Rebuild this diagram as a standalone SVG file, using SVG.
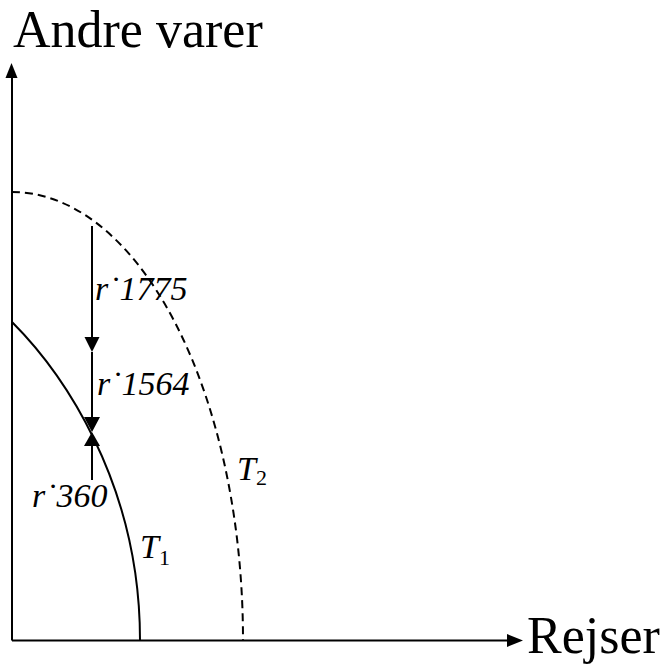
<svg xmlns="http://www.w3.org/2000/svg" width="667" height="666" viewBox="0 0 667 666">
<style>
.ax{stroke:#000;stroke-width:2;fill:none}
.cv{stroke:#000;stroke-width:2;fill:none}
.dash{stroke:#000;stroke-width:2;fill:none;stroke-dasharray:8,5}
.big{font-family:"Liberation Serif","Times New Roman",serif;font-size:52px;fill:#000}
.lab{font-family:"Liberation Serif","Times New Roman",serif;font-size:34px;font-style:italic;fill:#000}
.sub{font-style:normal;font-size:22px}
.head{fill:#000;stroke:none}
</style>
<rect width="667" height="666" fill="#fff"/>
<g id="axes">
<path class="ax" d="M12,640.5 H510 M12,640.5 V76"/>
<polygon class="head" points="11.5,63 5.5,78 17.5,78"/>
<polygon class="head" points="523,640.5 507,634 507,647"/>
</g>
<g id="label-y"><text class="big" x="13" y="47">Andre varer</text></g>
<g id="label-x"><text class="big" x="527" y="653">Rejser</text></g>
<g id="curve-T1"><path class="cv" d="M12,322 C60,370 140,480 140,640"/></g>
<g id="curve-T2"><path class="dash" d="M12,192 A231,448 0 0 1 243,640"/></g>
<g id="connectors">
<line class="cv" x1="92" y1="226" x2="92" y2="340"/>
<polygon class="head" points="92,352 84.5,337 99.5,337"/>
<line class="cv" x1="92" y1="352" x2="92" y2="420"/>
<polygon class="head" points="92,432 84,417 100,417"/>
<line class="cv" x1="92" y1="480" x2="92" y2="444"/>
<polygon class="head" points="92,432 84,446 100,446"/>
</g>
<g id="label-1775"><text class="lab" x="95" y="300">r˙1775</text></g>
<g id="label-1564"><text class="lab" x="97" y="395">r˙1564</text></g>
<g id="label-360"><text class="lab" x="32" y="507">r˙360</text></g>
<g id="label-T2"><text class="lab" x="237" y="480">T<tspan class="sub" dy="5">2</tspan></text></g>
<g id="label-T1"><text class="lab" x="140" y="558">T<tspan class="sub" dy="7">1</tspan></text></g>
</svg>
